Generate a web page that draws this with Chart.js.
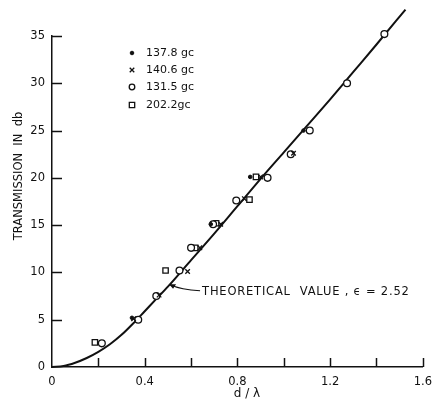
<!DOCTYPE html>
<html>
<head>
<meta charset="utf-8">
<script src="https://cdn.jsdelivr.net/npm/chart.js@4/dist/chart.umd.min.js"></script>
<style>
  html, body { margin: 0; padding: 0; background: #fff; }
  #chart { display: block; }
</style>
</head>
<body>
<canvas id="chart" width="440" height="406"></canvas>
<script>
// ---- data ----
const seriesNames = ['137.8 gc', '140.6 gc', '131.5 gc', '202.2gc'];

const dots137 = [[0.345, 5.2], [0.685, 15.1], [0.855, 20.1], [1.085, 25.0]];
const cross140 = [[0.352, 5.1], [0.462, 7.6], [0.585, 10.1], [0.638, 12.6], [0.728, 15.1],
                  [0.83, 17.8], [0.90, 20.1], [1.042, 22.6]];
const circle131 = [[0.215, 2.5], [0.372, 5.0], [0.45, 7.5], [0.55, 10.2], [0.60, 12.6],
                   [0.695, 15.1], [0.795, 17.6], [0.93, 20.0], [1.03, 22.5], [1.112, 25.0],
                   [1.273, 30.0], [1.434, 35.2]];
const square202 = [[0.185, 2.6], [0.49, 10.2], [0.618, 12.6], [0.708, 15.2], [0.852, 17.7],
                   [0.88, 20.1]];

// theoretical curve, eps = 2.52
const theoryX = [0, 0.05, 0.1, 0.15, 0.2, 0.25, 0.3, 0.35, 0.4, 0.45, 0.5, 0.6, 0.7, 0.8, 0.9,
                 1.0, 1.1, 1.2, 1.3, 1.4, 1.525];
const theoryY = [0, 0.1, 0.45, 0.95, 1.6, 2.4, 3.4, 4.6, 5.9, 7.2, 8.5, 11.3, 14.1, 17.0, 19.9,
                 22.7, 25.5, 28.3, 31.2, 34.1, 37.8];

const xTicks = [0, 0.4, 0.8, 1.2, 1.6];
const yTicks = [0, 5, 10, 15, 20, 25, 30, 35];

const toPts = arr => arr.map(p => ({ x: p[0], y: p[1] }));
const FONT = 'DejaVu Sans';

// markers: dot, x, open circle, open square
const markers = [
    { pointStyle: 'circle', radius: 1.8, bg: '#111', border: 1 },
    { pointStyle: 'crossRot', radius: 3.2, bg: '#111', border: 1.3 },
    { pointStyle: 'circle', radius: 3.4, bg: '#fff', border: 1.3 },
    { pointStyle: 'rect', radius: 3.8, bg: '#fff', border: 1.3 },
];

const pointSets = [dots137, cross140, circle131, square202];

const datasets = pointSets.map((set, i) => ({
    type: 'scatter',
    label: seriesNames[i],
    data: toPts(set),
    pointStyle: markers[i].pointStyle,
    pointRadius: markers[i].radius,
    pointBackgroundColor: markers[i].bg,
    pointBorderColor: '#111',
    pointBorderWidth: markers[i].border,
    clip: false,
    order: 0
}));

datasets.push({
    type: 'line',
    label: 'theory',
    data: theoryX.map((x, i) => ({ x: x, y: theoryY[i] })),
    borderColor: '#111',
    borderWidth: 2,
    pointRadius: 0,
    tension: 0.4,
    cubicInterpolationMode: 'monotone',
    clip: false,
    order: 5
});

// inward tick marks, legend, titles and note
const decorations = {
    id: 'decorations',
    afterDraw(chart) {
        const ctx = chart.ctx;
        const xs = chart.scales.x, ys = chart.scales.y;
        const area = chart.chartArea;
        ctx.save();
        ctx.strokeStyle = '#111';
        ctx.lineWidth = 1.5;

        // x ticks every 0.2, pointing up
        for (let v = 0.2; v <= 1.61; v += 0.2) {
            const px = Math.round(xs.getPixelForValue(v)) + 0.5;
            ctx.beginPath();
            ctx.moveTo(px, area.bottom);
            ctx.lineTo(px, area.bottom - 9);
            ctx.stroke();
        }
        // y ticks, pointing right
        yTicks.forEach(v => {
            if (v === 0) return;
            const py = Math.round(ys.getPixelForValue(v)) + 0.5;
            ctx.beginPath();
            ctx.moveTo(area.left, py);
            ctx.lineTo(area.left + 10, py);
            ctx.stroke();
        });

        // legend
        ctx.fillStyle = '#111';
        ctx.font = '11px "' + FONT + '"';
        ctx.textBaseline = 'middle';
        const legendRows = [53, 70, 87, 105];
        seriesNames.forEach((name, i) => {
            const m = markers[i];
            ctx.lineWidth = m.border;
            ctx.fillStyle = m.bg;
            ctx.strokeStyle = '#111';
            Chart.helpers.drawPoint(ctx, {
                pointStyle: m.pointStyle,
                radius: i === 2 ? 2.8 : m.radius,
                borderWidth: m.border,
                rotation: 0
            }, 132, legendRows[i]);
            ctx.fillStyle = '#111';
            ctx.fillText(name, 146, legendRows[i]);
        });

        // y title
        ctx.save();
        ctx.translate(19, 176);
        ctx.rotate(-Math.PI / 2);
        ctx.textAlign = 'center';
        ctx.font = '11.5px "' + FONT + '"';
        ctx.fillStyle = '#111';
        ctx.fillText('TRANSMISSION  IN  db', 0, 0);
        ctx.restore();

        // x title
        ctx.textAlign = 'center';
        ctx.font = '12px "' + FONT + '"';
        ctx.fillText('d / λ', 247, 394);

        // note with arrow
        const tipX = xs.getPixelForValue(0.505);
        const tipY = ys.getPixelForValue(8.7);
        ctx.strokeStyle = '#111';
        ctx.lineWidth = 1.1;
        ctx.beginPath();
        ctx.moveTo(tipX + 31, tipY + 6);
        ctx.quadraticCurveTo(tipX + 12, tipY + 5, tipX + 1, tipY);
        ctx.stroke();
        ctx.fillStyle = '#111';
        ctx.beginPath();
        ctx.moveTo(tipX, tipY - 0.5);
        ctx.lineTo(tipX + 7, tipY - 0.5);
        ctx.lineTo(tipX + 4, tipY + 4);
        ctx.closePath();
        ctx.fill();

        ctx.textAlign = 'left';
        ctx.font = '11.5px "' + FONT + '"';
        if ('letterSpacing' in ctx) ctx.letterSpacing = '0.8px';
        ctx.fillText('THEORETICAL  VALUE , ϵ = 2.52', tipX + 33, tipY + 7);
        ctx.restore();
    }
};

new Chart(document.getElementById('chart'), {
    type: 'scatter',
    data: { datasets: datasets },
    plugins: [decorations],
    options: {
        responsive: false,
        animation: false,
        layout: { padding: { top: 36, right: 9, left: 0, bottom: 0 } },
        plugins: {
            legend: { display: false },
            tooltip: { enabled: false }
        },
        scales: {
            x: {
                type: 'linear',
                min: 0,
                max: 1.6,
                afterFit: function (scale) { scale.height = 39; },
                afterBuildTicks: function (scale) {
                    scale.ticks = xTicks.map(v => ({ value: v }));
                },
                grid: { display: false, drawTicks: false },
                border: { display: true, color: '#111', width: 1.5 },
                ticks: {
                    padding: 8,
                    color: '#111',
                    font: { family: FONT, size: 11.5 },
                    maxRotation: 0,
                    callback: v => (v === 0 ? '0' : String(v))
                }
            },
            y: {
                type: 'linear',
                min: 0,
                max: 35,
                afterFit: function (scale) { scale.width = 52; },
                afterBuildTicks: function (scale) {
                    scale.ticks = yTicks.map(v => ({ value: v }));
                },
                grid: { display: false, drawTicks: false },
                border: { display: true, color: '#111', width: 1.5 },
                ticks: {
                    padding: 7,
                    color: '#111',
                    font: { family: FONT, size: 11.5 }
                }
            }
        }
    }
});
</script>
</body>
</html>
